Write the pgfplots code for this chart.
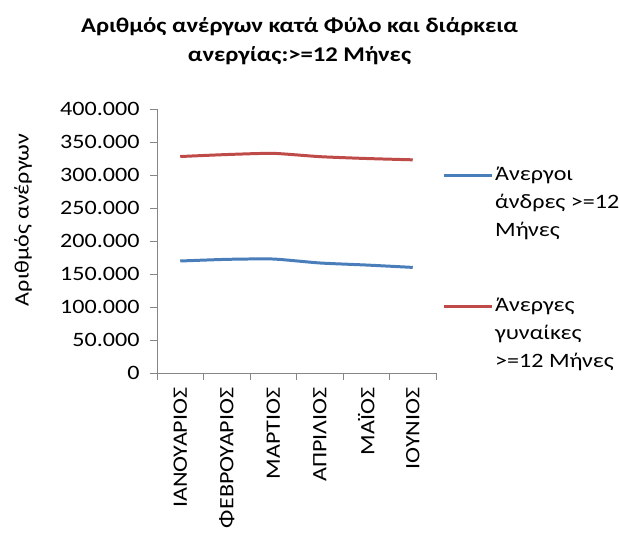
\documentclass[border=0pt]{standalone}
\usepackage{fontspec}
\setmainfont[FakeStretch=1.18]{Carlito}
\usepackage{pgfplots}
\pgfplotsset{compat=1.18}
\definecolor{menblue}{RGB}{74,126,187}
\definecolor{womenred}{RGB}{190,75,72}
\definecolor{axgray}{RGB}{134,134,134}

\begin{document}
\begin{tikzpicture}
\useasboundingbox (-157bp,-161bp) rectangle (462bp,373bp);
\begin{axis}[
  at={(0,0)}, anchor=south west,
  width=279bp, height=264bp, scale only axis,
  xmin=-0.5, xmax=5.5,
  ymin=0, ymax=400000,
  axis lines*=left,
  axis line style={axgray, line width=0.8pt},
  xtick={0,1,2,3,4,5},
  xticklabels={ΙΑΝΟΥΑΡΙΟΣ,ΦΕΒΡΟΥΑΡΙΟΣ,ΜΑΡΤΙΟΣ,ΑΠΡΙΛΙΟΣ,ΜΑΪΟΣ,ΙΟΥΝΙΟΣ},
  minor xtick={-0.5,0.5,1.5,2.5,3.5,4.5,5.5},
  major x tick style={draw=none},
  minor tick length=7bp,
  major tick length=7bp,
  tick align=outside,
  tick style={axgray, line width=0.8pt},
  ytick={0,50000,...,400000},
  scaled y ticks=false,
  ticklabel style={font=\fontsize{20.5}{24}\selectfont, text=black},
  yticklabel style={xshift=-7bp, /pgf/number format/.cd, fixed, 1000 sep={.}, assume math mode=true},
  xticklabel style={rotate=90, anchor=east, xshift=-4bp},
  ylabel={Αριθμός ανέργων},
  ylabel style={font=\fontsize{20.5}{24}\selectfont, at={(axis description cs:-0.48,0.58)}, anchor=center},
  title={Αριθμός ανέργων κατά Φύλο και διάρκεια\\ανεργίας:>=12 Μήνες},
  title style={font=\bfseries\fontsize{21}{29}\selectfont, align=center, at={(0.5,1)}, anchor=south, yshift=38bp, xshift=3bp, inner sep=0pt},
  legend style={draw=none, fill=none, at={(1,1)}, anchor=north west, xshift=6bp, yshift=-56bp,
    font=\fontsize{20.5}{28}\selectfont, row sep=56bp, inner sep=0pt,
    cells={align=left, anchor=west}},
  legend image code/.code={\draw[#1] (0bp,27bp) -- (48bp,27bp);},
  clip=false,
]
\addplot[menblue, line width=3pt, smooth, tension=0.35]
  coordinates {(0,169700) (1,172200) (2,172700) (3,166700) (4,163600) (5,160000)};
\addlegendentry{Άνεργοι\\άνδρες >=12\\Μήνες}
\addplot[womenred, line width=3pt, smooth, tension=0.35]
  coordinates {(0,328000) (1,331000) (2,332800) (3,327800) (4,325000) (5,323000)};
\addlegendentry{Άνεργες\\γυναίκες\\>=12 Μήνες}
\end{axis}
\end{tikzpicture}
\end{document}
